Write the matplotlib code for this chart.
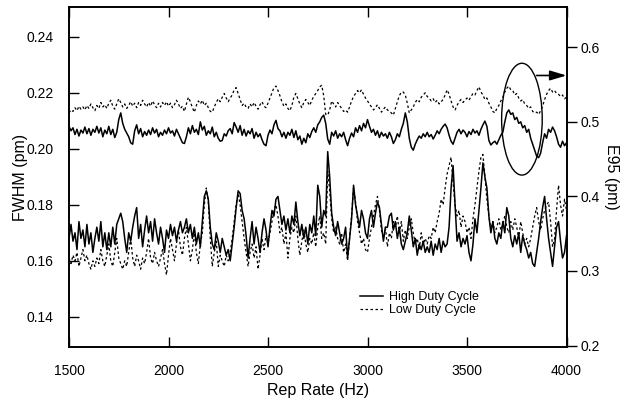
import numpy as np
import matplotlib
matplotlib.use("Agg")
import matplotlib.pyplot as plt
from matplotlib.patches import Ellipse

plt.rcParams['font.family'] = ['Liberation Sans', 'DejaVu Sans']

# rep rate grid, 10 Hz steps from 1500 to 4000 Hz
rep_rate = np.arange(1500, 4001, 10)

# E95 (pm), right axis
e95_high = [
    0.494, 0.488, 0.492, 0.483, 0.490, 0.481, 0.489, 0.485, 0.493, 0.484,
    0.491, 0.482, 0.490, 0.486, 0.494, 0.485, 0.492, 0.480, 0.489, 0.484,
    0.494, 0.483, 0.490, 0.479, 0.486, 0.503, 0.512, 0.498, 0.490, 0.485,
    0.480, 0.472, 0.470, 0.488, 0.496, 0.484, 0.491, 0.480, 0.487, 0.482,
    0.489, 0.483, 0.492, 0.485, 0.490, 0.480, 0.486, 0.482, 0.489, 0.484,
    0.492, 0.485, 0.488, 0.481, 0.490, 0.484, 0.478, 0.472, 0.471, 0.480,
    0.492, 0.484, 0.495, 0.486, 0.490, 0.483, 0.500, 0.489, 0.494, 0.482,
    0.488, 0.484, 0.493, 0.480, 0.486, 0.478, 0.474, 0.475, 0.484, 0.481,
    0.488, 0.491, 0.484, 0.499, 0.493, 0.486, 0.495, 0.482, 0.490, 0.481,
    0.488, 0.484, 0.491, 0.478, 0.486, 0.480, 0.484, 0.476, 0.470, 0.468,
    0.482, 0.489, 0.484, 0.496, 0.502, 0.491, 0.488, 0.480, 0.486, 0.478,
    0.486, 0.482, 0.490, 0.479, 0.488, 0.476, 0.481, 0.470, 0.478, 0.472,
    0.484, 0.479, 0.487, 0.492, 0.486, 0.496, 0.500, 0.506, 0.509, 0.498,
    0.477, 0.470, 0.486, 0.481, 0.488, 0.478, 0.484, 0.480, 0.486, 0.476,
    0.468, 0.478, 0.485, 0.480, 0.492, 0.486, 0.495, 0.488, 0.498, 0.492,
    0.503, 0.494, 0.486, 0.490, 0.482, 0.488, 0.479, 0.486, 0.481, 0.484,
    0.478, 0.486, 0.480, 0.471, 0.476, 0.484, 0.480, 0.490, 0.498, 0.512,
    0.500, 0.478, 0.466, 0.462, 0.470, 0.476, 0.481, 0.478, 0.484, 0.480,
    0.486, 0.480, 0.483, 0.477, 0.482, 0.488, 0.484, 0.490, 0.494, 0.497,
    0.492, 0.482, 0.474, 0.470, 0.478, 0.486, 0.490, 0.484, 0.489, 0.486,
    0.480, 0.487, 0.483, 0.490, 0.485, 0.488, 0.482, 0.490, 0.496, 0.501,
    0.494, 0.475, 0.469, 0.472, 0.474, 0.470, 0.476, 0.482, 0.486, 0.500,
    0.512, 0.516, 0.510, 0.512, 0.503, 0.506, 0.498, 0.500, 0.492, 0.495,
    0.486, 0.490, 0.478, 0.470, 0.462, 0.454, 0.452, 0.458, 0.472, 0.484,
    0.478, 0.490, 0.486, 0.493, 0.488, 0.480, 0.470, 0.466, 0.474, 0.468,
    0.472]

e95_low = [
    0.512, 0.516, 0.514, 0.519, 0.515, 0.521, 0.517, 0.520, 0.516, 0.522,
    0.518, 0.524, 0.519, 0.515, 0.522, 0.518, 0.526, 0.520, 0.523, 0.518,
    0.525, 0.529, 0.521, 0.517, 0.524, 0.531, 0.526, 0.520, 0.524, 0.518,
    0.522, 0.527, 0.521, 0.525, 0.519, 0.526, 0.522, 0.529, 0.524, 0.520,
    0.526, 0.521, 0.528, 0.523, 0.519, 0.525, 0.520, 0.526, 0.522, 0.527,
    0.521, 0.525, 0.519, 0.523, 0.529, 0.524, 0.518, 0.521, 0.514, 0.524,
    0.533, 0.527, 0.519, 0.513, 0.522, 0.528, 0.524, 0.529, 0.522, 0.525,
    0.519, 0.514, 0.513, 0.520, 0.526, 0.531, 0.527, 0.533, 0.538, 0.532,
    0.527, 0.532, 0.536, 0.543, 0.546, 0.538, 0.530, 0.522, 0.525, 0.520,
    0.518, 0.524, 0.520, 0.526, 0.521, 0.517, 0.523, 0.527, 0.521, 0.519,
    0.525, 0.532, 0.539, 0.546, 0.548, 0.542, 0.535, 0.527, 0.521, 0.524,
    0.518, 0.515, 0.522, 0.533, 0.538, 0.531, 0.524, 0.519, 0.526, 0.530,
    0.526, 0.522, 0.529, 0.534, 0.538, 0.542, 0.547, 0.549, 0.535, 0.510,
    0.509, 0.516, 0.528, 0.524, 0.520, 0.526, 0.522, 0.518, 0.514, 0.516,
    0.513, 0.520, 0.528, 0.534, 0.538, 0.542, 0.539, 0.543, 0.537, 0.532,
    0.528, 0.524, 0.520, 0.516, 0.519, 0.523, 0.518, 0.513, 0.517, 0.520,
    0.516, 0.514, 0.512, 0.509, 0.518, 0.527, 0.535, 0.540, 0.540, 0.536,
    0.525, 0.512, 0.516, 0.520, 0.526, 0.530, 0.527, 0.533, 0.536, 0.539,
    0.534, 0.532, 0.528, 0.531, 0.526, 0.529, 0.524, 0.527, 0.530, 0.536,
    0.543, 0.537, 0.528, 0.520, 0.516, 0.522, 0.527, 0.530, 0.526, 0.529,
    0.532, 0.529, 0.534, 0.538, 0.536, 0.542, 0.547, 0.540, 0.536, 0.530,
    0.532, 0.525, 0.520, 0.514, 0.512, 0.518, 0.522, 0.528, 0.533, 0.540,
    0.545, 0.548, 0.543, 0.542, 0.536, 0.538, 0.532, 0.528, 0.530, 0.524,
    0.522, 0.518, 0.520, 0.514, 0.512, 0.513, 0.510, 0.515, 0.521, 0.530,
    0.537, 0.542, 0.545, 0.540, 0.542, 0.538, 0.537, 0.534, 0.536, 0.531,
    0.533]

# FWHM (pm), left axis
fwhm_high = [
    0.168, 0.173, 0.167, 0.170, 0.164, 0.174, 0.168, 0.171, 0.165, 0.173,
    0.166, 0.170, 0.163, 0.168, 0.172, 0.167, 0.174, 0.165, 0.170, 0.164,
    0.170, 0.165, 0.172, 0.166, 0.173, 0.175, 0.177, 0.174, 0.168, 0.163,
    0.170, 0.167, 0.172, 0.176, 0.179, 0.168, 0.173, 0.165, 0.171, 0.176,
    0.170, 0.174, 0.167, 0.175, 0.170, 0.166, 0.172, 0.168, 0.163, 0.171,
    0.168, 0.173, 0.169, 0.172, 0.167, 0.171, 0.174, 0.170, 0.172, 0.175,
    0.170, 0.173, 0.168, 0.172, 0.166, 0.170, 0.165, 0.174, 0.183, 0.185,
    0.182, 0.172, 0.166, 0.164, 0.170, 0.167, 0.163, 0.168, 0.165, 0.162,
    0.164, 0.160, 0.166, 0.172, 0.179, 0.185, 0.184, 0.178, 0.175, 0.169,
    0.161, 0.168, 0.174, 0.166, 0.172, 0.168, 0.163, 0.170, 0.175, 0.171,
    0.165, 0.172, 0.178, 0.176, 0.182, 0.183, 0.178, 0.173, 0.176, 0.171,
    0.175, 0.170, 0.176, 0.173, 0.181, 0.174, 0.169, 0.173, 0.168, 0.172,
    0.166, 0.173, 0.170, 0.176, 0.169, 0.187, 0.183, 0.172, 0.178, 0.176,
    0.199, 0.190, 0.177, 0.172, 0.169, 0.174, 0.170, 0.166, 0.168, 0.172,
    0.161, 0.168, 0.175, 0.187, 0.180, 0.176, 0.172, 0.178, 0.175, 0.170,
    0.168, 0.175, 0.178, 0.172, 0.177, 0.181, 0.179, 0.173, 0.167, 0.172,
    0.172, 0.176, 0.177, 0.171, 0.174, 0.168, 0.172, 0.166, 0.164, 0.167,
    0.170, 0.176, 0.171, 0.165, 0.168, 0.162, 0.166, 0.164, 0.167, 0.163,
    0.165, 0.163, 0.167, 0.162, 0.166, 0.164, 0.168, 0.163, 0.167, 0.165,
    0.166, 0.172, 0.186, 0.194, 0.180, 0.167, 0.170, 0.165, 0.168, 0.166,
    0.169, 0.163, 0.160, 0.166, 0.175, 0.170, 0.178, 0.186, 0.195, 0.190,
    0.186, 0.176, 0.170, 0.174, 0.168, 0.166, 0.170, 0.168, 0.174, 0.170,
    0.179, 0.176, 0.168, 0.165, 0.169, 0.166, 0.170, 0.163, 0.169, 0.166,
    0.164, 0.161, 0.163, 0.159, 0.158, 0.163, 0.168, 0.174, 0.179, 0.183,
    0.175, 0.168, 0.163, 0.158, 0.165, 0.172, 0.174, 0.167, 0.161, 0.163,
    0.169]

fwhm_low = [
    0.161, 0.159, 0.162, 0.160, 0.163, 0.158, 0.161, 0.164, 0.160, 0.162,
    0.159, 0.157, 0.160, 0.158, 0.161, 0.159, 0.164, 0.160, 0.158, 0.162,
    0.166, 0.160, 0.158, 0.163, 0.168, 0.161, 0.159, 0.157, 0.160, 0.158,
    0.163, 0.168, 0.161, 0.158, 0.162, 0.160, 0.157, 0.161, 0.159, 0.163,
    0.168, 0.161, 0.159, 0.163, 0.160, 0.158, 0.161, 0.164, 0.159, 0.155,
    0.162, 0.168, 0.164, 0.160, 0.166, 0.171, 0.165, 0.162, 0.168, 0.172,
    0.166, 0.160, 0.164, 0.170, 0.163, 0.159, 0.166, 0.170, 0.180, 0.186,
    0.181, 0.168, 0.158, 0.163, 0.167, 0.158, 0.162, 0.160, 0.158, 0.162,
    0.160, 0.163, 0.168, 0.174, 0.180, 0.184, 0.180, 0.174, 0.168, 0.163,
    0.158, 0.163, 0.166, 0.161, 0.165, 0.157, 0.162, 0.168, 0.164, 0.169,
    0.166, 0.170, 0.174, 0.178, 0.180, 0.176, 0.170, 0.172, 0.166, 0.170,
    0.161, 0.168, 0.172, 0.170, 0.176, 0.168, 0.162, 0.167, 0.171, 0.166,
    0.163, 0.168, 0.166, 0.170, 0.165, 0.172, 0.176, 0.168, 0.170, 0.166,
    0.192, 0.185, 0.175, 0.170, 0.172, 0.168, 0.166, 0.170, 0.163, 0.166,
    0.160, 0.168, 0.176, 0.186, 0.181, 0.174, 0.170, 0.166, 0.168, 0.164,
    0.163, 0.168, 0.172, 0.176, 0.180, 0.183, 0.178, 0.171, 0.168, 0.172,
    0.165, 0.170, 0.168, 0.174, 0.172, 0.176, 0.170, 0.174, 0.167, 0.171,
    0.168, 0.172, 0.175, 0.170, 0.166, 0.168, 0.164, 0.170, 0.166, 0.168,
    0.166, 0.169, 0.168, 0.172, 0.170, 0.174, 0.177, 0.182, 0.180, 0.186,
    0.191, 0.194, 0.197, 0.188, 0.180, 0.176, 0.178, 0.172, 0.176, 0.174,
    0.170, 0.172, 0.168, 0.175, 0.180, 0.186, 0.192, 0.197, 0.198, 0.190,
    0.182, 0.176, 0.171, 0.174, 0.170, 0.172, 0.175, 0.171, 0.173, 0.176,
    0.172, 0.170, 0.174, 0.171, 0.175, 0.172, 0.168, 0.174, 0.170, 0.166,
    0.168, 0.165, 0.168, 0.172, 0.176, 0.179, 0.174, 0.171, 0.175, 0.178,
    0.180, 0.181, 0.174, 0.165, 0.168, 0.178, 0.187, 0.180, 0.176, 0.182,
    0.178]

x_ticks = [1500, 2000, 2500, 3000, 3500, 4000]
fwhm_ticks = [0.14, 0.16, 0.18, 0.20, 0.22, 0.24]
e95_ticks = [0.2, 0.3, 0.4, 0.5, 0.6]

fig = plt.figure(figsize=(6.25, 3.98), dpi=100)
ax = fig.add_axes([0.1104, 0.1281, 0.796, 0.8531])
ax2 = ax.twinx()

dot = (0, (2, 2))
ax.plot(rep_rate, fwhm_high, color='black', lw=1.1, label='High Duty Cycle')
ax.plot(rep_rate, fwhm_low, color='black', lw=0.9, linestyle=dot, label='Low Duty Cycle')
ax2.plot(rep_rate, e95_high, color='black', lw=1.1)
ax2.plot(rep_rate, e95_low, color='black', lw=0.9, linestyle=dot)

ax.set_xlim(1500, 4000)
ax.set_ylim(0.1292, 0.2505)
ax2.set_ylim(0.198, 0.6534)

ax.set_xticks(x_ticks)
ax.set_yticks(fwhm_ticks)
ax.set_yticklabels(['%.2f' % t for t in fwhm_ticks])
ax2.set_yticks(e95_ticks)
ax2.set_yticklabels(['%.1f' % t for t in e95_ticks])

ax.tick_params(axis='x', direction='in', length=7, width=1, top=True, pad=12, labelsize=10)
ax.tick_params(axis='y', direction='in', length=7, width=1, pad=11, labelsize=10)
ax2.tick_params(axis='y', direction='out', length=7, width=1, pad=3, labelsize=10)

for a in (ax, ax2):
    for s in a.spines.values():
        s.set_linewidth(1.2)

ax.set_xlabel('Rep Rate (Hz)', fontsize=11.5, labelpad=4)
ax.set_ylabel('FWHM (pm)', fontsize=11.5)
ax.yaxis.set_label_coords(-0.083, 0.5)
ax2.set_ylabel('E95 (pm)', fontsize=11.5, rotation=270, labelpad=14)

ax.legend(loc='upper left', bbox_to_anchor=(0.585, 0.165), frameon=False,
          fontsize=9, handlelength=1.8, handletextpad=0.5, labelspacing=0.1,
          borderpad=0, borderaxespad=0)

# circled region with arrow pointing to the E95 axis
ell = Ellipse((3776, 0.5036), width=204, height=0.150, fill=False, lw=1.0, color='black')
ax2.add_patch(ell)
ax2.annotate('', xy=(4000, 0.5622), xytext=(3850, 0.5622),
             arrowprops=dict(arrowstyle='-|>,head_length=1.0,head_width=0.3',
                             mutation_scale=10, color='black', lw=1.2,
                             shrinkA=0, shrinkB=0))

fig.savefig('out.png', dpi=100)
